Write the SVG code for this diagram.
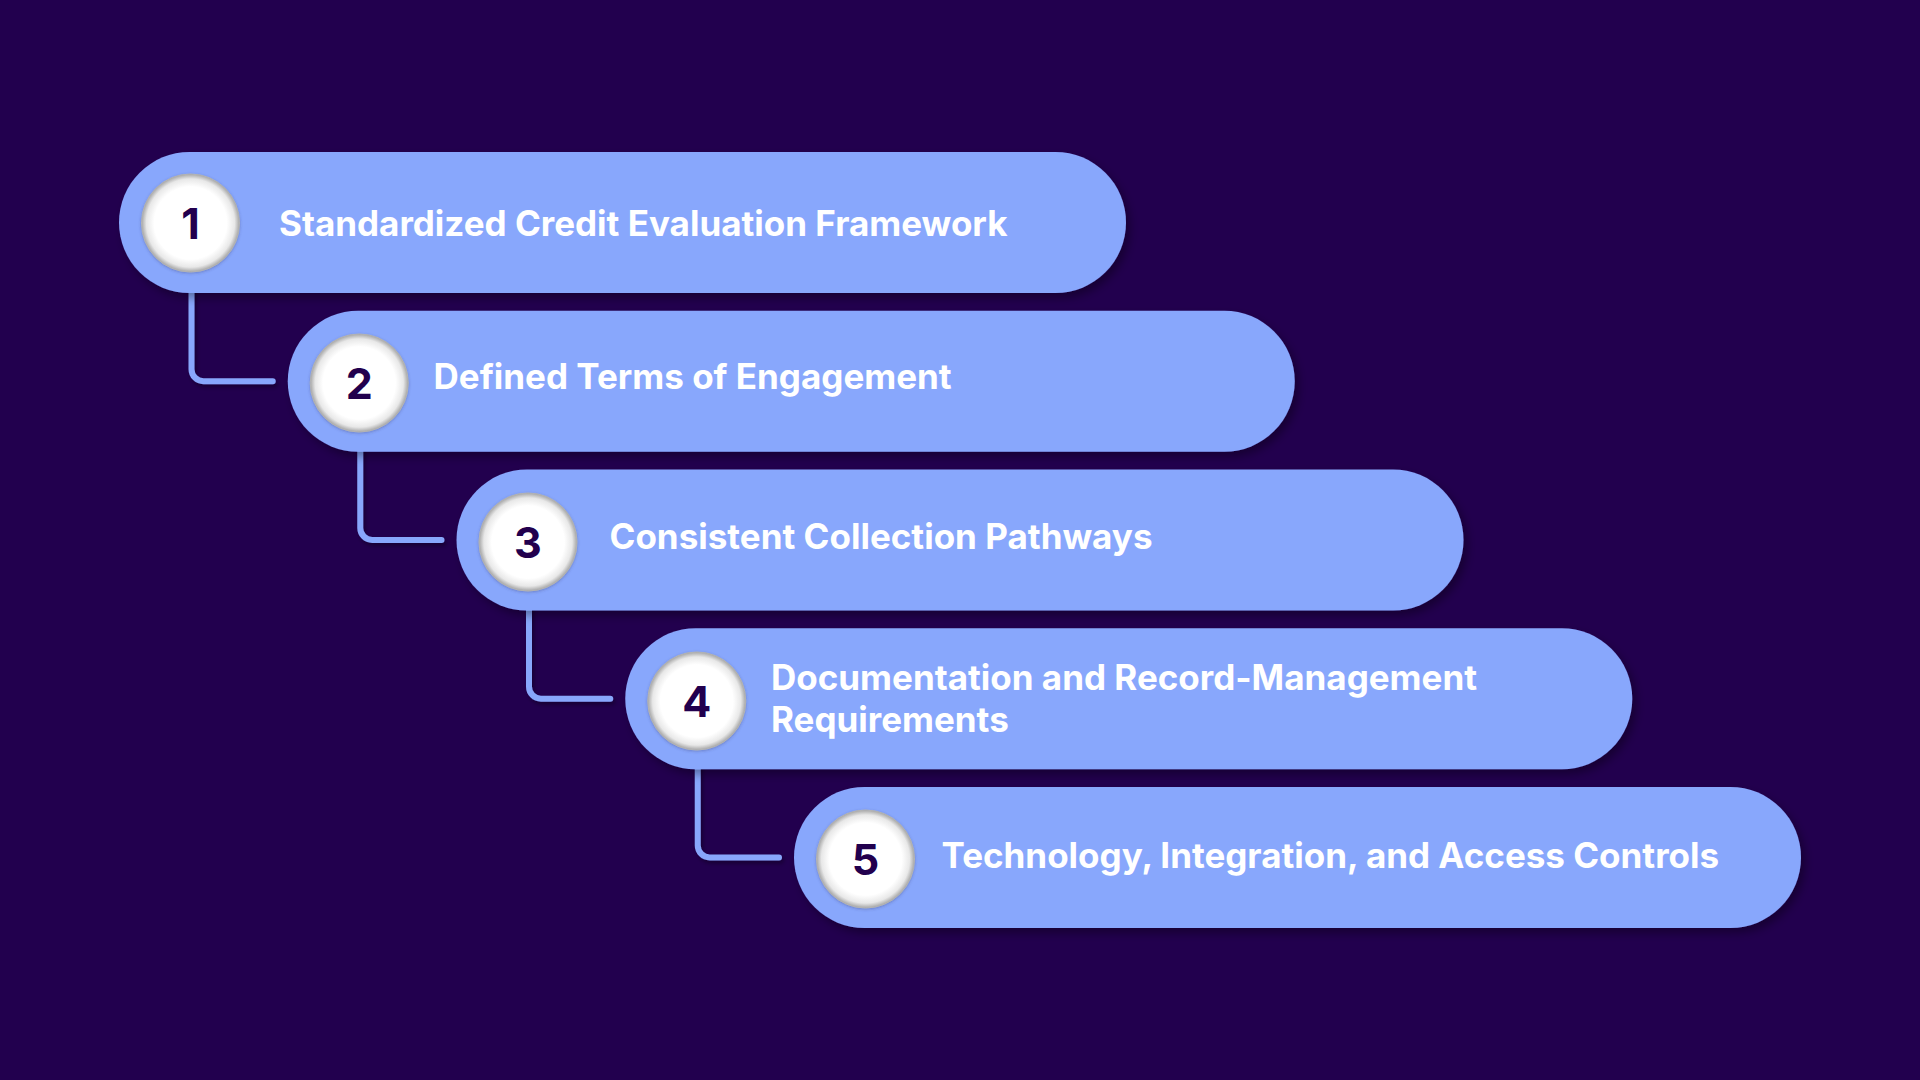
<svg xmlns="http://www.w3.org/2000/svg" width="1920" height="1080" viewBox="0 0 1920 1080">
  <defs>
    <style>
      .pill { fill: #88A7FC; filter: url(#pillShadow); }
      .badge { fill: url(#badgeGrad); stroke: #b3b3b3; stroke-width: 1; filter: url(#badgeShadow); }
      .num { font-family: Inter, "Liberation Sans", sans-serif; font-weight: 700; font-size: 43px; fill: #22004E; text-anchor: middle; }
      .label { font-family: Inter, "Liberation Sans", sans-serif; font-weight: 700; font-size: 35px; fill: #FFFFFF; }
      .conn { fill: none; stroke: #88A7FC; stroke-width: 6; stroke-linecap: round; stroke-linejoin: round; filter: url(#connShadow); }
    </style>
    <radialGradient id="badgeGrad" cx="50%" cy="50%" r="50%">
      <stop offset="0" stop-color="#ffffff"/>
      <stop offset="0.74" stop-color="#ffffff"/>
      <stop offset="0.9" stop-color="#e8e8e8"/>
      <stop offset="1" stop-color="#a6a6a6"/>
    </radialGradient>
    <filter id="pillShadow" x="-10%" y="-30%" width="120%" height="160%">
      <feDropShadow dx="4" dy="5" stdDeviation="5" flood-color="#000000" flood-opacity="0.35"/>
    </filter>
    <filter id="badgeShadow" x="-30%" y="-30%" width="160%" height="160%">
      <feDropShadow dx="0" dy="1" stdDeviation="1.5" flood-color="#3a3a6a" flood-opacity="0.35"/>
    </filter>
    <filter id="connShadow" x="-50%" y="-50%" width="200%" height="200%">
      <feDropShadow dx="2" dy="3" stdDeviation="2" flood-color="#000000" flood-opacity="0.35"/>
    </filter>
  </defs>
  <rect x="0" y="0" width="1920" height="1080" fill="#22004E"/>

  <g id="connectors">
    <path class="conn" d="M191.5,288 V369.25 A12,12 0 0 0 203.5,381.25 H272.75"/>
    <path class="conn" d="M360.25,446.75 V528 A12,12 0 0 0 372.25,540 H441.5"/>
    <path class="conn" d="M529,605.5 V686.75 A12,12 0 0 0 541,698.75 H610.25"/>
    <path class="conn" d="M697.75,764.25 V845.5 A12,12 0 0 0 709.75,857.5 H779"/>
  </g>

  <g id="node1">
    <rect class="pill" x="119" y="152" width="1007" height="141" rx="70.5"/>
    <circle class="badge" cx="190.5" cy="223" r="49"/>
    <text class="num" x="190.5" y="239">1</text>
    <text class="label" x="279" y="235.5">Standardized Credit Evaluation Framework</text>
  </g>
  <g id="node2">
    <rect class="pill" x="287.75" y="310.75" width="1007" height="141" rx="70.5"/>
    <circle class="badge" cx="359.25" cy="383" r="49"/>
    <text class="num" x="359.25" y="399">2</text>
    <text class="label" x="433.5" y="388.5">Defined Terms of Engagement</text>
  </g>
  <g id="node3">
    <rect class="pill" x="456.5" y="469.5" width="1007" height="141" rx="70.5"/>
    <circle class="badge" cx="528" cy="542" r="49"/>
    <text class="num" x="528" y="558">3</text>
    <text class="label" x="609.5" y="549">Consistent Collection Pathways</text>
  </g>
  <g id="node4">
    <rect class="pill" x="625.25" y="628.25" width="1007" height="141" rx="70.5"/>
    <circle class="badge" cx="696.75" cy="701" r="49"/>
    <text class="num" x="696.75" y="717">4</text>
    <text class="label" x="771" y="690">Documentation and Record-Management</text>
    <text class="label" x="771" y="732">Requirements</text>
  </g>
  <g id="node5">
    <rect class="pill" x="794" y="787" width="1007" height="141" rx="70.5"/>
    <circle class="badge" cx="865.5" cy="859" r="49"/>
    <text class="num" x="865.5" y="875">5</text>
    <text class="label" x="941.5" y="867.5">Technology, Integration, and Access Controls</text>
  </g>
</svg>
